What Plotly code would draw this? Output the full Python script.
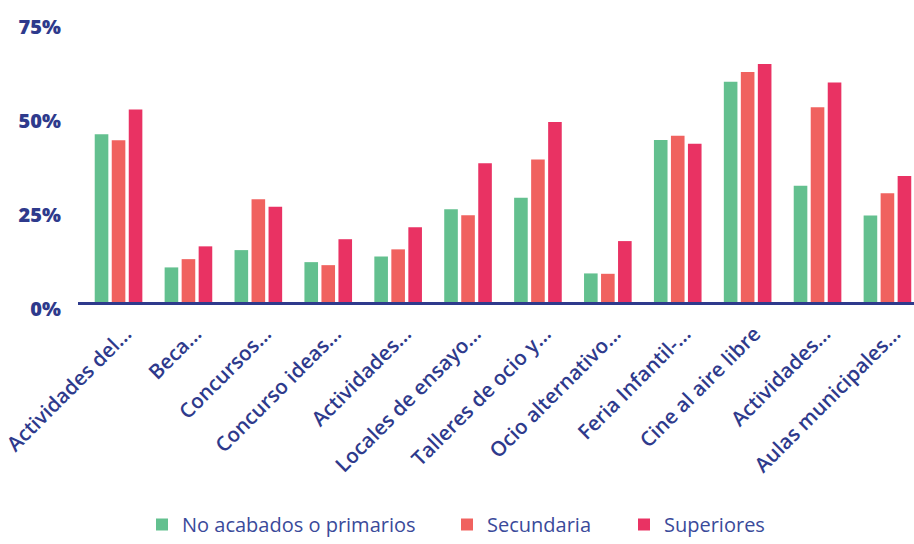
import plotly.graph_objects as go

categories = [
    "Actividades del...", "Beca...", "Concursos...", "Concurso ideas...",
    "Actividades...", "Locales de ensayo...", "Talleres de ocio y...",
    "Ocio alternativo...", "Feria Infantil-...", "Cine al aire libre",
    "Actividades...", "Aulas municipales...",
]
# unique ids so the two "Actividades..." labels stay separate categories
cat_ids = [f"c{i}" for i in range(len(categories))]

primarios = [44.6, 9.2, 13.8, 10.6, 12.1, 24.7, 27.7, 7.6, 43.1, 58.6, 30.9, 23.0]
secundaria = [43.0, 11.4, 27.3, 9.8, 14.0, 23.1, 37.9, 7.5, 44.2, 61.2, 51.8, 28.9]
superiores = [51.2, 14.8, 25.3, 16.7, 19.9, 36.9, 47.9, 16.2, 42.1, 63.3, 58.4, 33.5]

series_names = ["No acabados o primarios", "Secundaria", "Superiores"]
colors = ["#63C08F", "#F0625F", "#E93263"]
legend_ids = ["legend", "legend2", "legend3"]
legend_x = [142, 447, 624]
navy = "#2E3A8C"
W, H = 914, 544

fig = go.Figure()
for name, vals, col, lg in zip(series_names, [primarios, secundaria, superiores], colors, legend_ids):
    fig.add_trace(go.Bar(x=cat_ids, y=vals, name=name, marker_color=col,
                         marker_line_width=0, legend=lg, showlegend=True))

def legend_cfg(xpx):
    return dict(
        orientation="h", xref="container", yref="container",
        x=xpx / W, xanchor="left", y=-0.016, yanchor="bottom",
        font=dict(size=20, color="#3A4A9A", family="Open Sans"),
        itemwidth=30, bgcolor="rgba(0,0,0,0)", borderwidth=0,
    )

fig.update_layout(
    width=W, height=H,
    margin=dict(l=78, r=0, t=20, b=242),
    paper_bgcolor="white", plot_bgcolor="white",
    barmode="group", bargap=0.27, bargroupgap=0.2,
    font=dict(family="Open Sans", color=navy),
    showlegend=True,
    legend=legend_cfg(legend_x[0]),
    legend2=legend_cfg(legend_x[1]),
    legend3=legend_cfg(legend_x[2]),
)
fig.update_xaxes(
    type="category", range=[-0.58, 11.38],
    tickvals=cat_ids, ticktext=categories, tickangle=-45,
    tickfont=dict(size=20.5, color=navy, family="Open Sans", weight=600),
    showline=True, linecolor=navy, linewidth=2.5,
    showgrid=False, ticks="", ticklabelstandoff=9, ticklabelshift=7,
    automargin=False,
)
fig.update_yaxes(
    range=[0, 75], tickvals=[0, 25, 50, 75], ticktext=["0%", "25%", "50%", "75%"],
    tickfont=dict(size=20, color=navy, family="Open Sans", weight=800),
    showgrid=False, zeroline=False, showline=False,
    ticklabelshift=7, ticklabelstandoff=16, automargin=False,
)

fig.write_html("out.html", config={"displayModeBar": False},
               post_script="document.body.style.margin='0';")
